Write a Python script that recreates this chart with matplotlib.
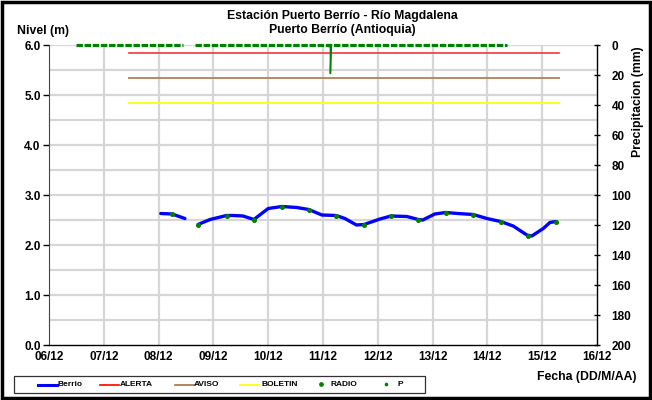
import numpy as np
import matplotlib
matplotlib.use("Agg")
import matplotlib.pyplot as plt
from matplotlib.lines import Line2D
from matplotlib.patches import Rectangle

plt.rcParams['font.family'] = ['Liberation Sans', 'DejaVu Sans']
plt.rcParams['font.weight'] = 'bold'

# ---- data (x = day of December) ----
tick_days = [6, 7, 8, 9, 10, 11, 12, 13, 14, 15, 16]
tick_labels = ["06/12", "07/12", "08/12", "09/12", "10/12", "11/12",
               "12/12", "13/12", "14/12", "15/12", "16/12"]

berrio_t = [8.04, 8.245, 8.48, np.nan, 8.72, 8.94, 9.24, 9.36, 9.54, 9.74, 9.81,
            10.0, 10.25, 10.52, 10.74, 10.98, 11.24, 11.40, 11.61, 11.75,
            12.04, 12.24, 12.53, 12.74, 12.82, 13.04, 13.24, 13.46, 13.74,
            13.99, 14.24, 14.47, 14.72, 14.81, 15.02, 15.14, 15.25]
berrio_v = [2.63, 2.62, 2.53, np.nan, 2.41, 2.51, 2.59, 2.59, 2.58, 2.51, 2.57,
            2.73, 2.77, 2.75, 2.71, 2.60, 2.59, 2.53, 2.40, 2.41,
            2.52, 2.58, 2.57, 2.51, 2.50, 2.62, 2.65, 2.63, 2.61,
            2.53, 2.47, 2.38, 2.20, 2.18, 2.33, 2.45, 2.47]

radio_t = [8.245, 8.72, 9.24, 9.74, 10.25, 10.74, 11.24, 11.75, 12.24,
           12.74, 13.24, 13.74, 14.24, 14.74, 15.25]
radio_v = [2.62, 2.41, 2.59, 2.51, 2.77, 2.71, 2.59, 2.41, 2.58,
           2.51, 2.65, 2.61, 2.47, 2.19, 2.47]

thr_t = [7.46, 15.30]
alerta = 5.84
aviso = 5.34
boletin = 4.84

# precipitation: zero baseline segments and the single rain event
p_t = [6.50, 8.45, np.nan, 8.66, 14.35]
p_v = [0.0, 0.0, np.nan, 0.0, 0.0]
p_event_t = [11.08, 11.10, 11.10, 11.135, 11.135, 11.15]
p_event_v = [0.0, 0.0, 1.0, 1.0, 19.0, 0.0]

# ---- figure ----
fig = plt.figure(figsize=(6.52, 4.0), dpi=100)
ax = fig.add_axes([49/652, 1-345/400, (597-49)/652, 300/400])
ax2 = ax.twinx()

ax.set_xlim(6, 16)
ax.set_ylim(0, 6)
ax2.set_ylim(200, 0)

# grid
for y in np.arange(0.5, 6.01, 0.5):
    ax.axhline(y, color='#d6d6d6', lw=1.6, zorder=0)
for d in tick_days[1:-1]:
    ax.axvline(d, color='#d6d6d6', lw=1.6, zorder=0)

# thresholds
ax.plot(thr_t, [alerta, alerta], color='#ff3333', lw=1.2, zorder=2)
ax.plot(thr_t, [aviso, aviso], color='#b08a6a', lw=1.4, zorder=2)
ax.plot(thr_t, [boletin, boletin], color='#ffff22', lw=1.4, zorder=2)

# level
ax.plot(berrio_t, berrio_v, color='#0000ff', lw=2.4, zorder=3,
        solid_capstyle='round')
ax.plot(radio_t, radio_v, 'o', color='#008000', ms=2.6, zorder=4)

# precipitation
ax2.plot(p_event_t, p_event_v, color='#008000', lw=1.1, zorder=4, clip_on=False)
ax2.plot(p_t, p_v, color='#008000', lw=2.3, ls=(0, (2.0, 0.55)), zorder=5,
         clip_on=False, dash_capstyle='butt')

# axes styling
ax.set_xticks(tick_days)
ax.set_xticklabels(tick_labels, fontsize=8.5, fontweight='bold')
ax.set_yticks(np.arange(0, 6.01, 1.0))
ax.set_yticklabels([f"{v:.1f}" for v in np.arange(0, 6.01, 1.0)],
                   fontsize=8.5, fontweight='bold')
ax2.set_yticks(np.arange(0, 201, 20))
ax2.set_yticklabels([str(v) for v in range(0, 201, 20)],
                    fontsize=8.5, fontweight='bold')
ax.tick_params(axis='x', length=0, pad=4)
ax.tick_params(axis='y', which='major', length=4, width=1, direction='out', pad=2)
ax2.tick_params(axis='y', length=5, width=1, direction='inout', pad=8)
for a in (ax, ax2):
    a.spines['top'].set_visible(False)
ax.spines['right'].set_visible(False)
ax2.spines['left'].set_visible(False)
ax2.spines['bottom'].set_visible(False)
ax.spines['left'].set_color('#444444')
ax.spines['bottom'].set_linewidth(1.0)
ax2.spines['right'].set_linewidth(1.0)

# texts
fs = 8.8
fig.text(342/652, 1-16.5/400, "Estación Puerto Berrío - Río Magdalena",
         ha='center', va='center', fontsize=fs, fontweight='bold')
fig.text(342/652, 1-30/400, "Puerto Berrío (Antioquia)",
         ha='center', va='center', fontsize=fs, fontweight='bold')
fig.text(17/652, 1-31/400, "Nivel (m)", ha='left', va='center',
         fontsize=fs, fontweight='bold')
fig.text(638/652, 1-102/400, "Precipitacion (mm)", ha='center', va='center',
         rotation=90, fontsize=fs, fontweight='bold')
fig.text(537/652, 1-377/400, "Fecha (DD/M/AA)", ha='left', va='center',
         fontsize=fs, fontweight='bold')

# legend (drawn manually to match the original layout)
W, H = 652.0, 400.0
def fx(px):
    return px / W
def fy(py):
    return 1 - py / H

fig.patches.append(Rectangle((fx(14), fy(393)), fx(425) - fx(14), fy(376) - fy(393),
                             transform=fig.transFigure, fill=False,
                             edgecolor='#333333', lw=0.9))
leg_y = 385
leg_items = [
    ("line", "#0000ff", 2.2, 38, 57, "Berrio", 58),
    ("line", "#ff0000", 1.2, 100, 119, "ALERTA", 120),
    ("line", "#a0704a", 1.2, 175, 194, "AVISO", 194),
    ("line", "#ffff00", 1.2, 240, 259, "BOLETIN", 262),
    ("dot", "#008000", 2.4, 321, 321, "RADIO", 331),
    ("dot", "#008000", 1.6, 386, 386, "P", 397),
]
for kind, col, sz, x0, x1, lab, tx in leg_items:
    if kind == "line":
        fig.add_artist(Line2D([fx(x0), fx(x1)], [fy(leg_y), fy(leg_y)],
                              transform=fig.transFigure, color=col, lw=sz))
    else:
        fig.add_artist(Line2D([fx(x0)], [fy(leg_y - 1.5)], transform=fig.transFigure,
                              color=col, marker='o', ms=sz, ls='none'))
    fig.text(fx(tx), fy(leg_y), lab, ha='left', va='center', fontsize=6,
             fontweight='bold')

# outer border
fig.patches.append(Rectangle((0.003, 0.004), 0.994, 0.992, transform=fig.transFigure,
                             fill=False, edgecolor='black', lw=2.5))

fig.savefig("out.png", dpi=100)
